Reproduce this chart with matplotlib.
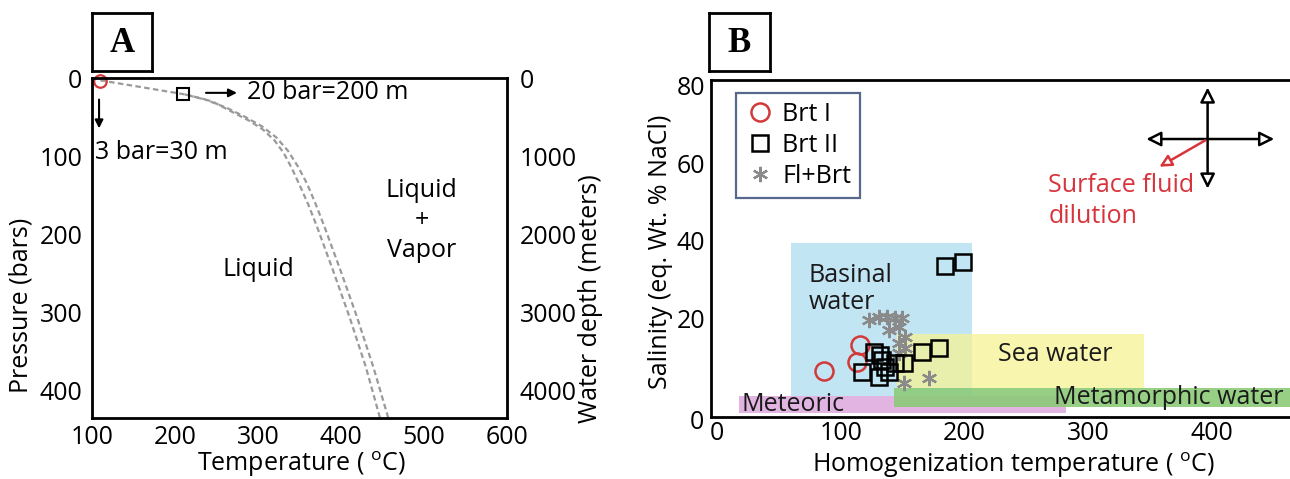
import matplotlib
matplotlib.use("Agg")
import matplotlib.pyplot as plt
from matplotlib.patches import Rectangle

plt.rcParams['font.family'] = ['Open Sans', 'DejaVu Sans']
plt.rcParams['mathtext.fontset'] = 'custom'
plt.rcParams['mathtext.rm'] = 'Open Sans'
plt.rcParams['font.size'] = 18

# ---- Panel A data: boiling curves (temperature degC, pressure bar)
curve1_T = [110, 150, 212, 245, 270, 290, 306, 320, 331, 341, 351, 361, 371,
            390, 410, 430, 447]
curve1_P = [3, 10, 21, 30, 44, 55, 66, 80, 96, 116, 139, 163, 190,
            245, 305, 370, 435]
curve2_T = [212, 235, 262, 285, 305, 322, 336, 348, 359, 369, 380, 399, 419,
            439, 457]
curve2_P = [21, 27, 38, 50, 62, 76, 93, 113, 135, 160, 190, 245, 305,
            370, 435]
brt1_A = (110, 4)
brt2_A = (210, 20)
xticks_A = [100, 200, 300, 400, 500, 600]
yticks_A = [0, 100, 200, 300, 400]
depth_ticks = [0, 1000, 2000, 3000, 4000]

# ---- Panel B data: homogenization temperature (degC), salinity (wt% NaCl)
brt1_T = [86, 115.6, 113.4]
brt1_S = [6.5, 13.1, 8.8]
brt2_T = [184, 198.6, 126.4, 131.8, 117.2, 130.5, 135.8, 143.9, 138.5, 150.7,
          165.5, 179, 133]
brt2_S = [33.5, 34.4, 11.4, 10.6, 6.3, 5.0, 7.6, 8.4, 6.3, 8.4, 11.4, 12.3, 9.3]
flbrt_T = [122.4, 130.5, 137.2, 143.9, 149.3, 138.5, 146.6, 152, 146.6, 152,
           146.6, 150.7, 170.9]
flbrt_S = [19.6, 20.4, 20.4, 20.0, 20.0, 17.0, 17.9, 15.3, 13.6, 12.3, 11.0,
           3.3, 4.6]

# fluid fields: name, x0, x1, y0, y1
regions = {
    "basinal": (60, 206, 0, 39.5),
    "sea": (145, 345, 2, 16),
    "meteoric": (18, 282, -4.4, 0),
    "metamorphic": (143, 480, -2.8, 2.1),
}
region_colors = {
    "basinal": ("#c2e5f4", 1.0),
    "sea": ("#f6f294", 0.75),
    "meteoric": ("#e2b4e2", 1.0),
    "metamorphic": ("#8ccb78", 0.9),
}

fig = plt.figure(figsize=(12.9, 4.79), dpi=100)

# ================= Panel A =================
axA = fig.add_axes([92 / 1290, 1 - 418 / 479, 415 / 1290, 340 / 479])
axA.plot(curve1_T, curve1_P, color="#9a9a9a", lw=1.6, ls=(0, (2.5, 1.5)))
axA.plot(curve2_T, curve2_P, color="#9a9a9a", lw=1.6, ls=(0, (2.5, 1.5)))
axA.plot(*brt1_A, marker="o", ms=9, mfc="none", mec="#d23a3a", mew=1.6,
         clip_on=False)
axA.plot(*brt2_A, marker="s", ms=9, mfc="none", mec="black", mew=1.5)
axA.set_xlim(100, 600)
axA.set_ylim(435, 0)
axA.set_xticks(xticks_A)
axA.set_yticks(yticks_A)
axA.tick_params(length=0, labelsize=18)
axA.tick_params(axis="y", pad=7)
axA.tick_params(axis="x", pad=5)
for s in axA.spines.values():
    s.set_linewidth(2)
axA.set_xlabel("Temperature ( $^{\\mathrm{o}}$C)", fontsize=18)
axA.xaxis.set_label_coords(0.505, -0.092)
axA.set_ylabel("Pressure (bars)", fontsize=18)
axA.yaxis.set_label_coords(-0.142, 0.33)

axA.annotate("", xy=(108.5, 68), xytext=(108.5, 24),
             arrowprops=dict(arrowstyle="-|>", lw=1.5, color="black",
                             mutation_scale=12))
axA.text(103.5, 95, "3 bar=30 m", ha="left", va="center", fontsize=18)
axA.annotate("", xy=(278, 19), xytext=(234, 19),
             arrowprops=dict(arrowstyle="-|>", lw=1.5, color="black",
                             mutation_scale=12))
axA.text(287, 19, "20 bar=200 m", ha="left", va="center", fontsize=18)
axA.text(300, 245, "Liquid", ha="center", va="center", fontsize=18)
axA.text(497, 182, "Liquid\n+\nVapor", ha="center", va="center", fontsize=18,
         linespacing=1.25)

axA2 = axA.twinx()
axA2.set_ylim(4350, 0)
axA2.set_yticks(depth_ticks)
axA2.tick_params(length=0, labelsize=18, pad=9)
axA2.set_ylabel("Water depth (meters)", fontsize=18)
axA2.yaxis.set_label_coords(1.171, 0.35)

boxA = fig.add_axes([92 / 1290, 1 - 71 / 479, 60 / 1290, 58 / 479])
boxA.set_xticks([])
boxA.set_yticks([])
for s in boxA.spines.values():
    s.set_linewidth(2)
boxA.text(0.5, 0.47, "A", ha="center", va="center", fontsize=25,
          fontweight="bold", family="Liberation Serif", transform=boxA.transAxes)

# ================= Panel B =================
axB = fig.add_axes([711 / 1290, 1 - 417 / 479, 579 / 1290, 337 / 479])
for name, (x0, x1, y0, y1) in regions.items():
    c, a = region_colors[name]
    axB.add_patch(Rectangle((x0, y0), x1 - x0, y1 - y0, facecolor=c, alpha=a,
                            edgecolor="none", zorder=0))

axB.text(73.6, 27.6, "Basinal\nwater", ha="left", va="center", fontsize=18,
         linespacing=1.1, color="#1a1a1a")
axB.text(273, 10.6, "Sea water", ha="center", va="center", fontsize=18,
         color="#1a1a1a")
axB.text(19.4, -2.2, "Meteoric", ha="left", va="center", fontsize=18,
         color="#1a1a1a")
axB.text(272, -0.3, "Metamorphic water", ha="left", va="center", fontsize=18,
         color="#1a1a1a")

axB.plot(brt1_T, brt1_S, ls="none", marker="o", ms=13, mfc="none",
         mec="#d23a3a", mew=1.8, label="Brt I", zorder=3)
axB.plot(brt2_T, brt2_S, ls="none", marker="s", ms=12, mfc="none",
         mec="black", mew=1.8, label="Brt II", zorder=3)
axB.plot(flbrt_T, flbrt_S, ls="none", marker=(6, 2, 0), ms=11,
         mec="#8a8a8a", mew=1.6, label="Fl+Brt", zorder=2)

axB.set_xlim(-5, 463)
axB.set_ylim(-5.4, 81.4)
axB.set_xticks([0, 100, 200, 300, 400])
axB.set_yticks([20, 40, 60, 80])
axB.tick_params(length=0, labelsize=18)
axB.tick_params(axis="y", pad=4)
axB.tick_params(axis="x", pad=3)
axB.text(-0.012, -0.015, "0", transform=axB.transAxes, ha="right",
         va="center", fontsize=18)
for s in axB.spines.values():
    s.set_linewidth(2)
axB.spines["right"].set_visible(False)
axB.set_xlabel("Homogenization temperature ( $^{\\mathrm{o}}$C)", fontsize=18)
axB.xaxis.set_label_coords(0.522, -0.1)
axB.set_ylabel("Salinity (eq. Wt. % NaCl)", fontsize=18)
axB.yaxis.set_label_coords(-0.066, 0.49)

leg = axB.legend(loc="upper left", bbox_to_anchor=(0.043, 0.962),
                 borderaxespad=0, fancybox=False, fontsize=18,
                 handletextpad=0.3, handlelength=1.2, borderpad=0.35,
                 labelspacing=0.25)
leg.get_frame().set_edgecolor("#2c4470")
leg.get_frame().set_linewidth(1.6)

# direction cross and dilution arrow
cross_x, cross_y = 396.4, 66.2
axB.annotate("", xy=(452.5, cross_y), xytext=(344.6, cross_y),
             arrowprops=dict(arrowstyle="<|-|>", lw=1.8, color="black",
                             mutation_scale=22, fc="white"))
axB.annotate("", xy=(cross_x, 80.2), xytext=(cross_x, 52.7),
             arrowprops=dict(arrowstyle="<|-|>", lw=1.8, color="black",
                             mutation_scale=22, fc="white"))
axB.annotate("", xy=(355.5, 58.7), xytext=(cross_x, cross_y),
             arrowprops=dict(arrowstyle="-|>", lw=1.8, color="#d7343c",
                             mutation_scale=18, fc="white"))
axB.text(267.6, 50.3, "Surface fluid\ndilution", ha="left", va="center",
         fontsize=18, color="#d7343c", linespacing=1.3)

boxB = fig.add_axes([709 / 1290, 1 - 71 / 479, 61 / 1290, 58 / 479])
boxB.set_xticks([])
boxB.set_yticks([])
for s in boxB.spines.values():
    s.set_linewidth(2)
boxB.text(0.5, 0.47, "B", ha="center", va="center", fontsize=25,
          fontweight="bold", family="Liberation Serif", transform=boxB.transAxes)

fig.savefig("out.png", dpi=100)
